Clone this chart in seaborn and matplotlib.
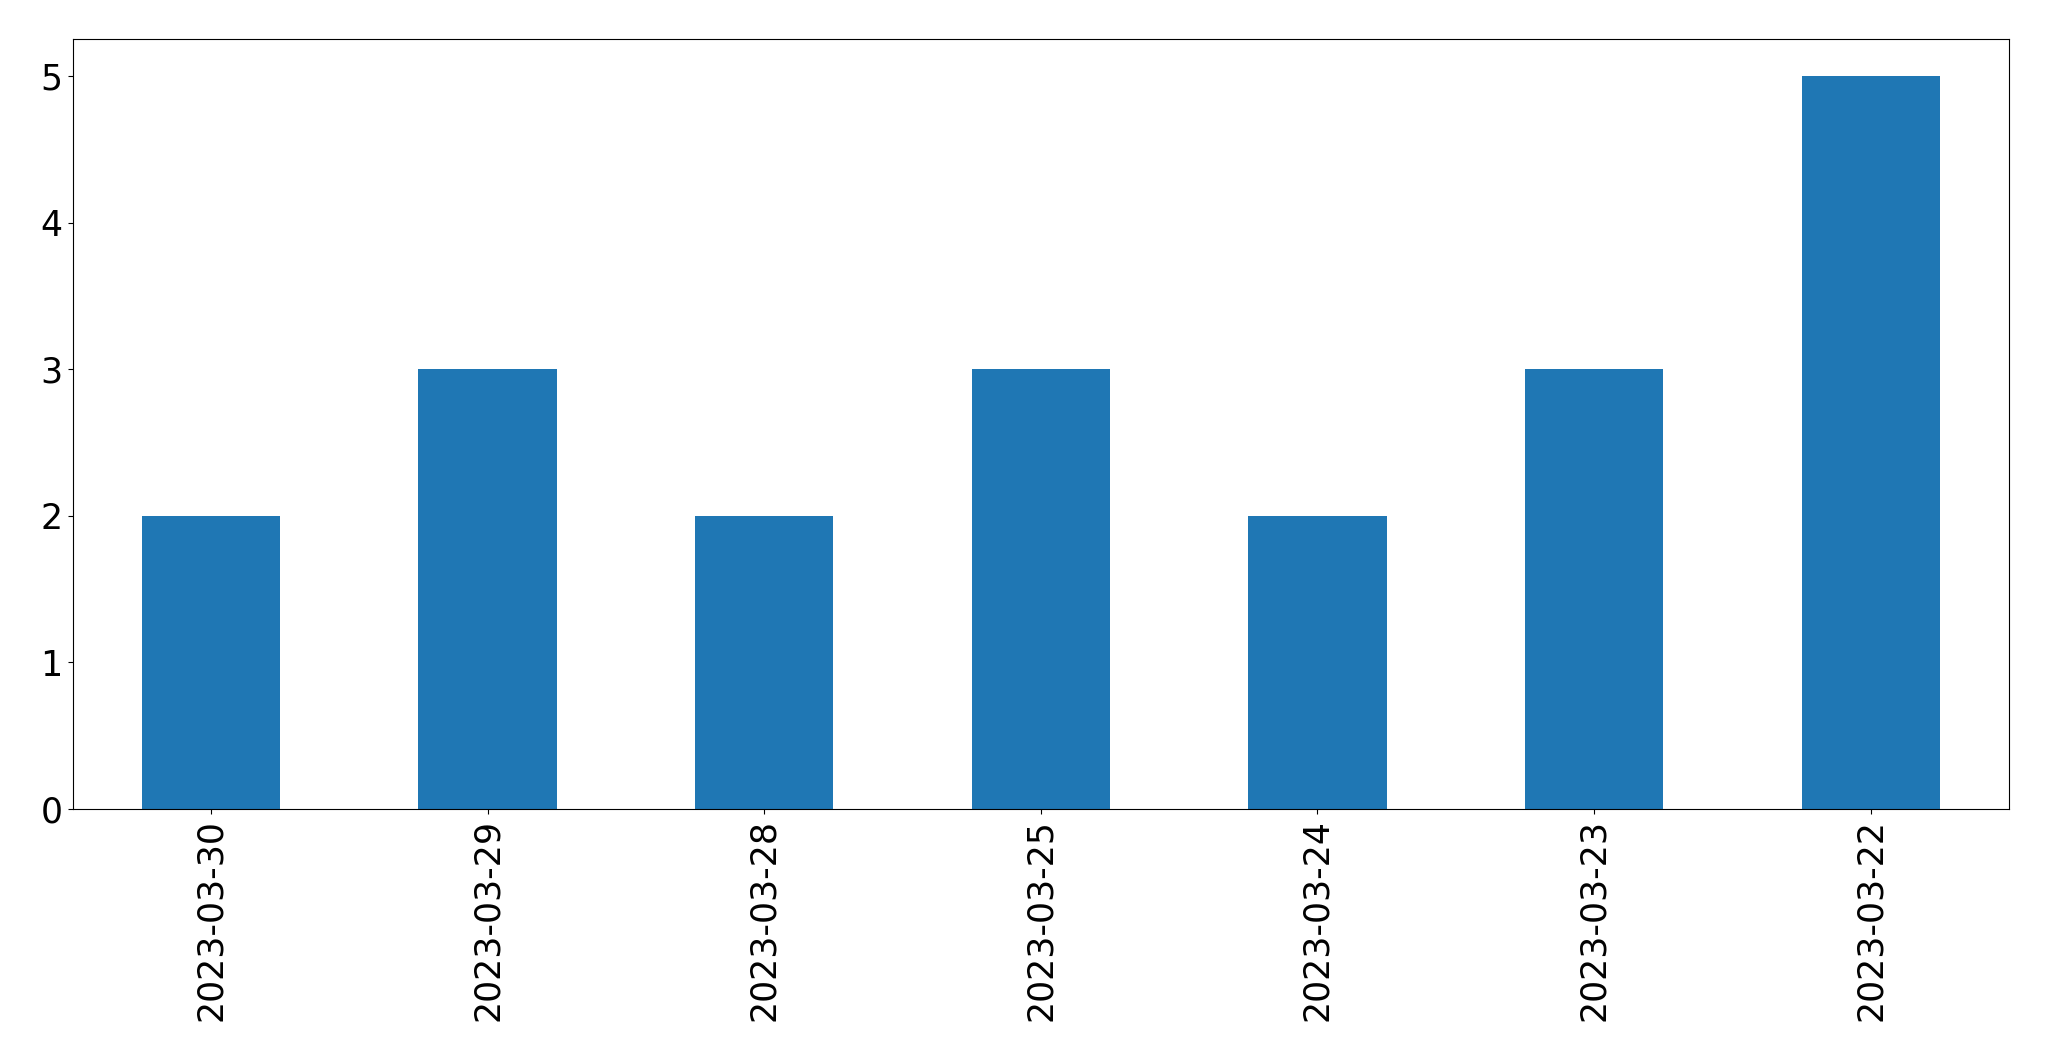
import seaborn as sns
import pandas as pd
import matplotlib
matplotlib.use("Agg")
import matplotlib.pyplot as plt

### Datos
fechas = ["2023-03-30", "2023-03-29", "2023-03-28", "2023-03-25",
          "2023-03-24", "2023-03-23", "2023-03-22"]
conteos = [2, 3, 2, 3, 2, 3, 5]

datos = pd.DataFrame({"fecha": fechas, "conteo": conteos})

### Grafica
fig, ax = plt.subplots(figsize=(20.49, 10.61), dpi=100)
fig.subplots_adjust(left=0.0354, right=0.9805, top=0.9628, bottom=0.2375)

sns.barplot(data=datos, x="fecha", y="conteo", order=fechas,
            color="#1f77b4", saturation=1, width=0.5, ax=ax)

ax.set_xlim(-0.5, len(fechas) - 0.5)
ax.set_ylim(0, 5.25)
ax.set_xlabel("")
ax.set_ylabel("")
ax.tick_params(axis="both", labelsize=25)
ax.tick_params(axis="x", labelrotation=90)

plt.savefig("out.png", dpi=100)
